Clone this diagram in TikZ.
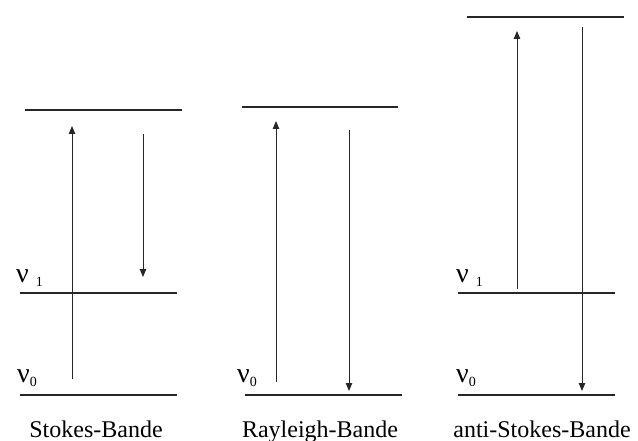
\documentclass[tikz,border=0pt]{standalone}
\usepackage{fontspec}
\setmainfont{Liberation Serif}
\usetikzlibrary{arrows.meta}
\begin{document}
\begin{tikzpicture}[x=1pt,y=-1pt,
  level/.style={line width=1.8pt, draw=black!85, line cap=butt},
  trans/.style={line width=0.9pt, draw=black!85, -{Triangle[length=8pt,width=6.5pt]}},
  band/.style={font=\fontsize{24}{26}\selectfont, anchor=base, inner sep=0pt},
  nu/.style={anchor=base west, inner sep=0pt, font=\fontsize{28}{30}\selectfont}]
\useasboundingbox (0,0) rectangle (638,441);
\newcommand{\sublbl}[1]{\raisebox{-4pt}{\fontsize{14}{15}\selectfont #1}}

% ---------- Stokes band ----------
\draw[level] (25,110) -- (182,110);
\draw[level] (20,293) -- (177,293);
\draw[level] (20,395) -- (177,395);
\coordinate (s-up-a) at (72,379);
\coordinate (s-up-b) at (72,126);
\coordinate (s-dn-a) at (143,134);
\coordinate (s-dn-b) at (143,277);
\draw[trans] (s-up-a) -- (s-up-b);
\draw[trans] (s-dn-a) -- (s-dn-b);
\node[nu] (s-nu1) at (16,283) {ν\ \sublbl{1}};
\node[nu] (s-nu0) at (17,382) {ν\sublbl{0}};
\node[band] (s-label) at (96,437) {Stokes-Bande};

% ---------- Rayleigh band ----------
\draw[level] (242,107) -- (398,107);
\draw[level] (245,395) -- (402,395);
\coordinate (r-up-a) at (276,382);
\coordinate (r-up-b) at (276,121);
\coordinate (r-dn-a) at (349,130);
\coordinate (r-dn-b) at (349,391);
\draw[trans] (r-up-a) -- (r-up-b);
\draw[trans] (r-dn-a) -- (r-dn-b);
\node[nu] (r-nu0) at (237,382) {ν\sublbl{0}};
\node[band] (r-label) at (320,437) {Rayleigh-Bande};

% ---------- anti-Stokes band ----------
\draw[level] (467,17) -- (624,17);
\draw[level] (458,293) -- (615,293);
\draw[level] (458,395) -- (615,395);
\coordinate (a-up-a) at (517,289);
\coordinate (a-up-b) at (517,31);
\coordinate (a-dn-a) at (582,27);
\coordinate (a-dn-b) at (582,391);
\draw[trans] (a-up-a) -- (a-up-b);
\draw[trans] (a-dn-a) -- (a-dn-b);
\node[nu] (a-nu1) at (456,283) {ν\ \sublbl{1}};
\node[nu] (a-nu0) at (456,382) {ν\sublbl{0}};
\node[band] (a-label) at (542,437) {anti-Stokes-Bande};
\end{tikzpicture}
\end{document}
